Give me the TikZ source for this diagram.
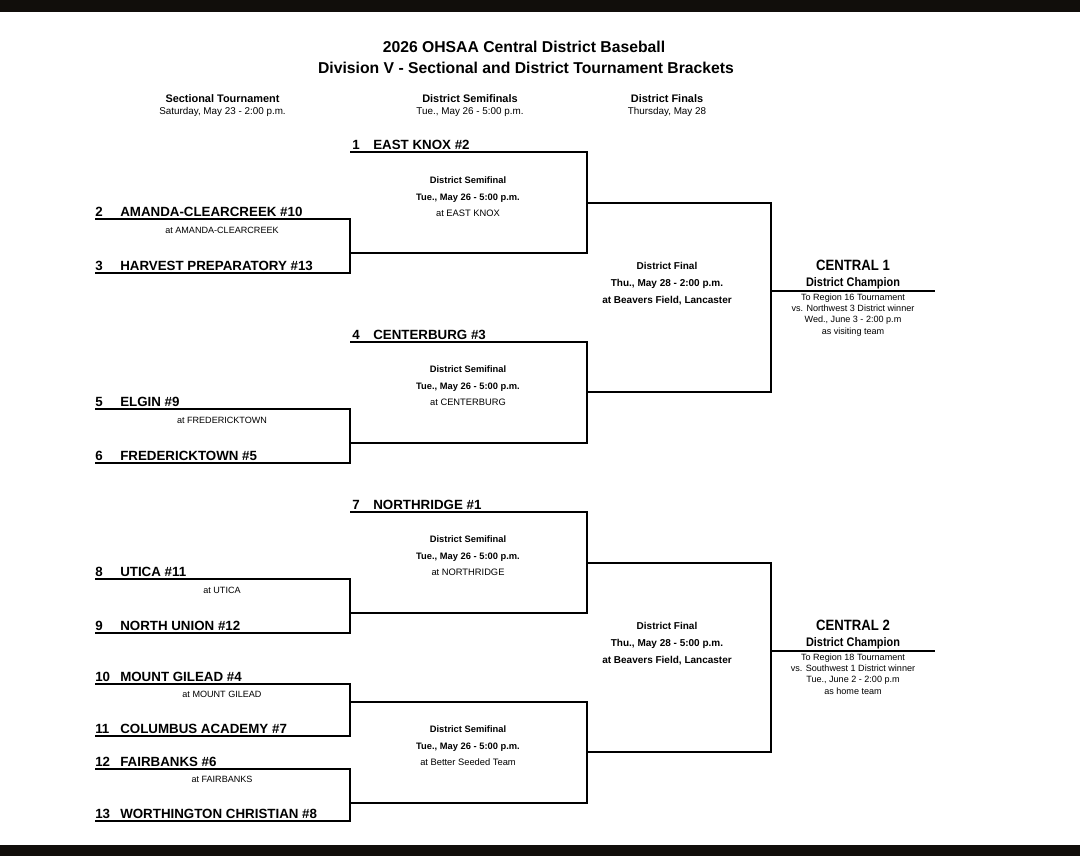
\documentclass[tikz,border=0pt]{standalone}
\usepackage{fontspec}
\setmainfont{Liberation Sans}
\newfontfamily\condsans[FakeStretch=0.88]{Liberation Sans}
\begin{document}
\begin{tikzpicture}[x=0.75pt,y=-0.75pt,
  bk/.style={line width=2.1pt, line join=miter},
  chl/.style={line width=1.6pt},
  team/.style={anchor=base west, inner sep=0pt, font=\fontsize{10}{12}\selectfont\bfseries},
  site/.style={anchor=base, inner sep=0pt, font=\fontsize{6.8}{8}\selectfont},
  sfb/.style={anchor=base, inner sep=0pt, font=\fontsize{7}{8}\selectfont\bfseries},
  sfr/.style={anchor=base, inner sep=0pt, font=\fontsize{7}{8}\selectfont},
  fin/.style={anchor=base, inner sep=0pt, font=\fontsize{7.5}{9}\selectfont\bfseries},
  ttl/.style={anchor=base, inner sep=0pt, font=\fontsize{11.8}{14}\selectfont\bfseries},
  hdb/.style={anchor=base, inner sep=0pt, font=\fontsize{8.2}{10}\selectfont\bfseries},
  hdr/.style={anchor=base, inner sep=0pt, font=\fontsize{7.4}{9}\selectfont},
  cen/.style={anchor=base, inner sep=0pt, font=\condsans\fontsize{11.2}{13}\selectfont\bfseries},
  chp/.style={anchor=base, inner sep=0pt, font=\condsans\fontsize{9.3}{11}\selectfont\bfseries},
  chs/.style={anchor=base, inner sep=0pt, font=\fontsize{6.8}{8}\selectfont},
  bar/.style={fill={rgb,255:red,17;green,14;blue,11}, draw=none}
]
\useasboundingbox (0,0) rectangle (1080,856);
\fill[white] (0,0) rectangle (1080,856);
\path[bar] (0,0) rectangle (1080,12);
\path[bar] (0,845) rectangle (1080,856);

% Titles
\node[ttl] (title1) at (524,53) {2026 OHSAA Central District Baseball};
\node[ttl] (title2) at (526,73.3) {Division V - Sectional and District Tournament Brackets};
\node[hdb] (h1) at (222.5,102) {Sectional Tournament};
\node[hdr] (h1s) at (222.5,114) {Saturday, May 23 - 2:00 p.m.};
\node[hdb] (h2) at (470,102) {District Semifinals};
\node[hdr] (h2s) at (470,114) {Tue., May 26 - 5:00 p.m.};
\node[hdb] (h3) at (667,102) {District Finals};
\node[hdr] (h3s) at (667,114) {Thursday, May 28};

% ---------- Block 1 ----------
\coordinate (t1s) at (350,152); \coordinate (t1e) at (587,152);
\coordinate (s1b) at (587,253); \coordinate (s1e) at (350,253);
\draw[bk] (t1s) -- (t1e) -- (s1b) -- (s1e);
\coordinate (t2s) at (95,219); \coordinate (t2e) at (350,219);
\coordinate (t3e) at (350,273); \coordinate (t3s) at (95,273);
\draw[bk] (t2s) -- (t2e) -- (t3e) -- (t3s);
\node[team] (n1) at (352,149.3) {1};
\node[team] (m1) at (373,149.3) {EAST KNOX \#2};
\node[team] (n2) at (95,216.3) {2};
\node[team] (m2) at (120,216.3) {AMANDA-CLEARCREEK \#10};
\node[team] (n3) at (95,270.3) {3};
\node[team] (m3) at (120,270.3) {HARVEST PREPARATORY \#13};
\node[site] (a23) at (222,233.3) {at AMANDA-CLEARCREEK};
\node[sfb] (sf1a) at (468,183.3) {District Semifinal};
\node[sfb] (sf1b) at (468,200.3) {Tue., May 26 - 5:00 p.m.};
\node[sfr] (sf1c) at (468,216.3) {at EAST KNOX};

% ---------- Block 2 ----------
\coordinate (t4s) at (350,342); \coordinate (t4e) at (587,342);
\coordinate (s2b) at (587,443); \coordinate (s2e) at (350,443);
\draw[bk] (t4s) -- (t4e) -- (s2b) -- (s2e);
\coordinate (t5s) at (95,409); \coordinate (t5e) at (350,409);
\coordinate (t6e) at (350,463); \coordinate (t6s) at (95,463);
\draw[bk] (t5s) -- (t5e) -- (t6e) -- (t6s);
\node[team] (n4) at (352,339.3) {4};
\node[team] (m4) at (373,339.3) {CENTERBURG \#3};
\node[team] (n5) at (95,406.3) {5};
\node[team] (m5) at (120,406.3) {ELGIN \#9};
\node[team] (n6) at (95,460.3) {6};
\node[team] (m6) at (120,460.3) {FREDERICKTOWN \#5};
\node[site] (a56) at (222,423.3) {at FREDERICKTOWN};
\node[sfb] (sf2a) at (468,372.3) {District Semifinal};
\node[sfb] (sf2b) at (468,389.3) {Tue., May 26 - 5:00 p.m.};
\node[sfr] (sf2c) at (468,405.8) {at CENTERBURG};

% ---------- Final 1 ----------
\coordinate (f1a) at (587,203); \coordinate (f1b) at (771,203);
\coordinate (f1c) at (771,392); \coordinate (f1d) at (587,392);
\draw[bk] (f1a) -- (f1b) -- (f1c) -- (f1d);
\coordinate (c1a) at (771,291); \coordinate (c1b) at (935,291);
\draw[chl] (c1a) -- (c1b);
\node[fin] (df1a) at (667,269.6) {District Final};
\node[fin] (df1b) at (667,286.6) {Thu., May 28 - 2:00 p.m.};
\node[fin] (df1c) at (667,303.6) {at Beavers Field, Lancaster};
\node[cen] (ce1) at (853,270) {CENTRAL 1};
\node[chp] (ch1) at (853,286.5) {District Champion};
\node[chs] (cs1a) at (853,300) {To Region 16 Tournament};
\node[chs] (cs1b) at (853,311.6) {vs. Northwest 3 District winner};
\node[chs] (cs1c) at (853,322.8) {Wed., June 3 - 2:00 p.m};
\node[chs] (cs1d) at (853,334.6) {as visiting team};

% ---------- Block 3 ----------
\coordinate (t7s) at (350,512); \coordinate (t7e) at (587,512);
\coordinate (s3b) at (587,613); \coordinate (s3e) at (350,613);
\draw[bk] (t7s) -- (t7e) -- (s3b) -- (s3e);
\coordinate (t8s) at (95,579); \coordinate (t8e) at (350,579);
\coordinate (t9e) at (350,633); \coordinate (t9s) at (95,633);
\draw[bk] (t8s) -- (t8e) -- (t9e) -- (t9s);
\node[team] (n7) at (352,509.3) {7};
\node[team] (m7) at (373,509.3) {NORTHRIDGE \#1};
\node[team] (n8) at (95,576.3) {8};
\node[team] (m8) at (120,576.3) {UTICA \#11};
\node[team] (n9) at (95,630.3) {9};
\node[team] (m9) at (120,630.3) {NORTH UNION \#12};
\node[site] (a89) at (222,593.3) {at UTICA};
\node[sfb] (sf3a) at (468,542.3) {District Semifinal};
\node[sfb] (sf3b) at (468,559.3) {Tue., May 26 - 5:00 p.m.};
\node[sfr] (sf3c) at (468,575.8) {at NORTHRIDGE};

% ---------- Block 4 ----------
\coordinate (t10s) at (95,684); \coordinate (t10e) at (350,684);
\coordinate (t11e) at (350,736); \coordinate (t11s) at (95,736);
\draw[bk] (t10s) -- (t10e) -- (t11e) -- (t11s);
\coordinate (t12s) at (95,769); \coordinate (t12e) at (350,769);
\coordinate (t13e) at (350,821); \coordinate (t13s) at (95,821);
\draw[bk] (t12s) -- (t12e) -- (t13e) -- (t13s);
\coordinate (s4a) at (350,702); \coordinate (s4b) at (587,702);
\coordinate (s4c) at (587,803); \coordinate (s4d) at (350,803);
\draw[bk] (s4a) -- (s4b) -- (s4c) -- (s4d);
\node[team] (n10) at (95,681.3) {10};
\node[team] (m10) at (120,681.3) {MOUNT GILEAD \#4};
\node[team] (n11) at (95,733.3) {11};
\node[team] (m11) at (120,733.3) {COLUMBUS ACADEMY \#7};
\node[team] (n12) at (95,766.3) {12};
\node[team] (m12) at (120,766.3) {FAIRBANKS \#6};
\node[team] (n13) at (95,818.3) {13};
\node[team] (m13) at (120,818.3) {WORTHINGTON CHRISTIAN \#8};
\node[site] (a1011) at (222,697.3) {at MOUNT GILEAD};
\node[site] (a1213) at (222,782.3) {at FAIRBANKS};
\node[sfb] (sf4a) at (468,732.3) {District Semifinal};
\node[sfb] (sf4b) at (468,749.3) {Tue., May 26 - 5:00 p.m.};
\node[sfr] (sf4c) at (468,765.8) {at Better Seeded Team};

% ---------- Final 2 ----------
\coordinate (f2a) at (587,563); \coordinate (f2b) at (771,563);
\coordinate (f2c) at (771,752); \coordinate (f2d) at (587,752);
\draw[bk] (f2a) -- (f2b) -- (f2c) -- (f2d);
\coordinate (c2a) at (771,651); \coordinate (c2b) at (935,651);
\draw[chl] (c2a) -- (c2b);
\node[fin] (df2a) at (667,629.6) {District Final};
\node[fin] (df2b) at (667,646.6) {Thu., May 28 - 5:00 p.m.};
\node[fin] (df2c) at (667,663.6) {at Beavers Field, Lancaster};
\node[cen] (ce2) at (853,630) {CENTRAL 2};
\node[chp] (ch2) at (853,646.5) {District Champion};
\node[chs] (cs2a) at (853,660) {To Region 18 Tournament};
\node[chs] (cs2b) at (853,671.6) {vs. Southwest 1 District winner};
\node[chs] (cs2c) at (853,682.8) {Tue., June 2 - 2:00 p.m};
\node[chs] (cs2d) at (853,694.6) {as home team};
\end{tikzpicture}
\end{document}
